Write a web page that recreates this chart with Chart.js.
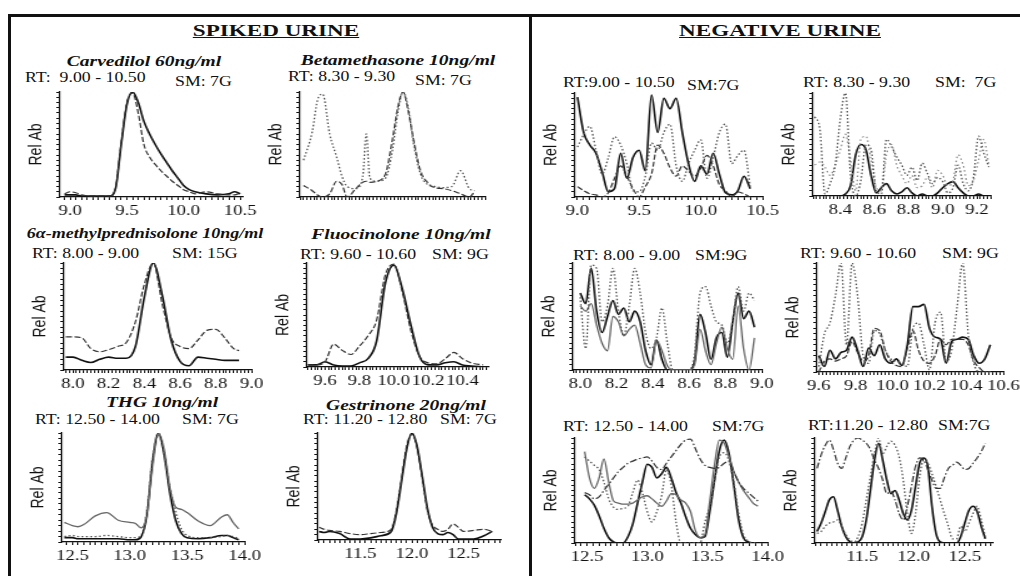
<!DOCTYPE html>
<html>
<head>
<meta charset="utf-8">
<script src="https://cdn.jsdelivr.net/npm/chart.js@4.4.1/dist/chart.umd.min.js"></script>
<style>
  body { margin: 0; background: #fff; }
  #page { position: relative; width: 1020px; height: 576px; overflow: hidden; background: #fff;
          font-family: 'Liberation Serif', 'Times New Roman', serif; color: #111; }
  .rule { position: absolute; background: #111; }
  .txt { position: absolute; white-space: pre; line-height: 1; }
  .head { font-weight: bold; font-size: 17px; text-decoration: underline; text-align: center; width: 300px; }
  .name { font-weight: bold; font-style: italic; font-size: 15px; text-align: center; width: 300px; }
  .rt { font-size: 14px; }
  .plot { position: absolute; transform-origin: 0 0; }
</style>
</head>
<body>
<div id="page">
  <div class="rule" style="left:8px;top:14px;width:1012px;height:3px"></div>
  <div class="rule" style="left:8px;top:14px;width:3px;height:562px"></div>
  <div class="rule" style="left:529px;top:14px;width:3px;height:562px"></div>
</div>
<script>
// ---- spiked urine ----
const carvRt = [8.95, 9.0, 9.05, 9.1, 9.2, 9.3, 9.35, 9.4, 9.45, 9.5, 9.55, 9.6, 9.65, 9.7, 9.75, 9.8, 9.85, 9.9, 9.95, 10.0, 10.05, 10.1, 10.2, 10.3, 10.4, 10.45, 10.5];
const carvSolid = [2, 2, 2, 1, 1, 1, 1, 8, 50, 88, 100, 90, 72, 60, 50, 41, 33, 25, 18, 11, 7, 5, 3, 2, 3, 5, 3];
const carvDash = [3, 5, 4, 2, 1, 1, 1, 9, 52, 90, 99, 80, 50, 38, 31, 25, 20, 15, 11, 7, 5, 3, 5, 3, 2, 2, 4];

const betaRt = [8.25, 8.3, 8.33, 8.36, 8.4, 8.44, 8.47, 8.5, 8.55, 8.59, 8.61, 8.63, 8.67, 8.72, 8.76, 8.79, 8.82, 8.85, 8.88, 8.92, 8.96, 9.0, 9.05, 9.1, 9.15, 9.2, 9.23];
const betaDot = [35, 62, 92, 98, 60, 38, 20, 10, 8, 20, 60, 18, 15, 18, 45, 80, 100, 85, 52, 22, 12, 10, 9, 10, 25, 8, 6];
const betaSolid = [11, 6, 2, 0, 3, 15, 12, 0, 8, 14, 15, 14, 15, 22, 55, 85, 100, 82, 55, 25, 14, 9, 8, 6, 3, 0, 5];

const mpRt = [7.96, 8.0, 8.05, 8.1, 8.15, 8.2, 8.25, 8.3, 8.35, 8.4, 8.45, 8.5, 8.55, 8.6, 8.65, 8.7, 8.75, 8.8, 8.85, 8.9, 8.93];
const mpSolid = [12, 12, 9, 7, 10, 12, 11, 11, 22, 68, 100, 70, 28, 8, 4, 12, 11, 10, 9, 9, 9];
const mpDash = [31, 31, 30, 20, 17, 19, 22, 26, 45, 80, 100, 62, 30, 22, 20, 28, 37, 38, 30, 20, 18];

const fluoRt = [9.5, 9.55, 9.6, 9.65, 9.7, 9.75, 9.8, 9.85, 9.9, 9.95, 10.0, 10.05, 10.1, 10.15, 10.2, 10.25, 10.3, 10.35, 10.4, 10.45, 10.52];
const fluoSolid = [2, 2, 5, 2, 1, 1, 4, 8, 25, 80, 98, 75, 40, 10, 2, 2, 4, 5, 2, 1, 0];
const fluoDash = [2, 2, 5, 22, 16, 12, 20, 30, 45, 88, 99, 72, 35, 10, 4, 3, 8, 14, 8, 4, 2];

const thgRt = [12.43, 12.5, 12.55, 12.6, 12.7, 12.8, 12.9, 13.0, 13.05, 13.1, 13.15, 13.2, 13.25, 13.3, 13.35, 13.4, 13.45, 13.5, 13.6, 13.7, 13.8, 13.85, 13.9, 13.95];
const thgUpper = [18, 15, 14, 16, 24, 27, 20, 18, 17, 13, 25, 70, 100, 85, 50, 32, 30, 27, 19, 15, 23, 25, 18, 12];
const thgSolid = [4, 4, 3, 3, 3, 3, 3, 2, 2, 5, 25, 75, 100, 80, 45, 20, 8, 4, 3, 4, 6, 6, 4, 2];
const thgDot = [5, 6, 5, 5, 5, 6, 5, 4, 4, 6, 28, 78, 98, 82, 50, 28, 12, 6, 4, 4, 5, 6, 5, 3];

const gestRt = [11.1, 11.15, 11.2, 11.3, 11.4, 11.5, 11.6, 11.7, 11.8, 11.85, 11.9, 11.95, 12.0, 12.05, 12.1, 12.15, 12.2, 12.25, 12.3, 12.35, 12.4, 12.45, 12.5, 12.6, 12.7, 12.78];
const gestSolid = [8, 7, 8, 6, 1, 1, 2, 4, 8, 25, 55, 85, 100, 88, 60, 30, 12, 6, 5, 7, 5, 1, 1, 1, 4, 8];
const gestDash = [12, 10, 9, 8, 6, 5, 6, 7, 10, 28, 58, 88, 99, 86, 58, 28, 14, 10, 8, 10, 15, 12, 8, 9, 10, 8];

// ---- negative urine ----
const negCarvRt = [9.0, 9.05, 9.1, 9.15, 9.2, 9.25, 9.3, 9.35, 9.4, 9.45, 9.5, 9.55, 9.6, 9.65, 9.7, 9.75, 9.8, 9.85, 9.9, 9.95, 10.0, 10.05, 10.1, 10.15, 10.2, 10.25, 10.3, 10.35, 10.4];
const negCarvSolid = [96, 62, 50, 42, 24, 5, 8, 42, 18, 38, 45, 25, 98, 62, 95, 85, 95, 62, 32, 15, 30, 22, 42, 22, 4, 2, 6, 20, 8];
const negCarvDot = [48, 60, 68, 45, 22, 38, 58, 50, 32, 6, 5, 20, 52, 45, 62, 70, 30, 15, 32, 45, 55, 18, 38, 62, 70, 32, 40, 45, 10];
const negCarvDash = [10, 6, 3, 2, 0, 4, 18, 30, 20, 8, 0, 10, 22, 50, 42, 28, 20, 30, 25, 20, 28, 40, 30, 12, 6, 0, 5, 3, 0];

const negBetaRt = [8.25, 8.28, 8.31, 8.34, 8.37, 8.40, 8.43, 8.46, 8.49, 8.52, 8.55, 8.58, 8.61, 8.64, 8.67, 8.70, 8.73, 8.76, 8.79, 8.82, 8.85, 8.88, 8.91, 8.94, 8.97, 9.00, 9.03, 9.06, 9.09, 9.12, 9.15, 9.18, 9.21, 9.24, 9.27];
const negBetaA = [77, 65, 2, 12, 30, 75, 100, 20, 0, 15, 50, 45, 5, 2, 55, 48, 38, 30, 20, 28, 15, 32, 22, 12, 18, 14, 3, 8, 30, 12, 5, 18, 58, 42, 28];
const negBetaB = [30, 33, 28, 20, 30, 45, 60, 35, 5, 55, 58, 35, 8, 5, 40, 50, 30, 20, 12, 20, 8, 10, 18, 8, 25, 20, 10, 15, 40, 30, 10, 15, 35, 55, 30];
const negBetaSolid = [0, 0, 0, 0, 0, 0, 2, 10, 40, 50, 45, 20, 3, 8, 12, 5, 2, 4, 8, 3, 0, 2, 0, 0, 3, 8, 12, 14, 8, 3, 0, 0, 2, 0, 0];

const negMpRt = [8.00, 8.03, 8.06, 8.09, 8.12, 8.15, 8.18, 8.21, 8.24, 8.27, 8.30, 8.33, 8.36, 8.39, 8.42, 8.45, 8.48, 8.51, 8.54, 8.57, 8.60, 8.63, 8.66, 8.69, 8.72, 8.75, 8.78, 8.81, 8.84, 8.87, 8.90, 8.93, 8.96];
const negMpDot = [68, 20, 98, 95, 45, 60, 95, 55, 32, 60, 95, 72, 35, 20, 30, 58, 25, 0, 0, 0, 0, 15, 72, 78, 60, 45, 42, 25, 45, 78, 55, 72, 65];
const negMpSolid = [72, 62, 95, 55, 35, 50, 65, 52, 58, 45, 55, 45, 18, 5, 28, 10, 0, 0, 0, 0, 0, 8, 52, 35, 10, 30, 35, 12, 45, 72, 48, 55, 40];
const negMpThin = [60, 55, 62, 42, 25, 18, 50, 45, 32, 38, 42, 25, 5, 2, 28, 18, 4, 0, 0, 0, 0, 5, 38, 18, 5, 25, 40, 20, 10, 60, 20, 0, 30];

const negFluoRt = [9.60, 9.63, 9.66, 9.69, 9.72, 9.75, 9.78, 9.81, 9.84, 9.87, 9.90, 9.93, 9.96, 9.99, 10.02, 10.05, 10.08, 10.11, 10.14, 10.17, 10.20, 10.23, 10.26, 10.29, 10.32, 10.35, 10.38, 10.41, 10.44, 10.47, 10.50, 10.53];
const negFluoDot = [5, 35, 45, 70, 100, 25, 100, 70, 15, 8, 38, 35, 20, 12, 10, 8, 5, 40, 45, 25, 2, 45, 55, 10, 20, 60, 100, 35, 8, 0, 0, 0];
const negFluoSolid = [15, 5, 20, 12, 18, 20, 32, 20, 5, 22, 15, 25, 12, 8, 12, 6, 25, 60, 60, 62, 40, 32, 30, 8, 28, 30, 32, 30, 15, 8, 12, 25];
const negFluoDash = [0, 10, 12, 10, 12, 15, 28, 18, 10, 15, 40, 38, 20, 10, 6, 5, 22, 38, 20, 10, 8, 15, 30, 25, 30, 30, 30, 25, 10, 4, 0, 0];

const negThgRt = [12.48, 12.52, 12.56, 12.60, 12.64, 12.68, 12.72, 12.76, 12.80, 12.84, 12.88, 12.92, 12.96, 13.00, 13.04, 13.08, 13.12, 13.16, 13.20, 13.24, 13.28, 13.32, 13.36, 13.40, 13.44, 13.48, 13.52, 13.56, 13.60, 13.64, 13.68, 13.72, 13.76, 13.80, 13.84, 13.88, 13.92];
const negThgA = [46, 42, 36, 26, 14, 5, 1, 0, 0, 6, 18, 38, 58, 75, 72, 62, 66, 72, 62, 48, 38, 25, 14, 8, 5, 6, 30, 60, 88, 98, 85, 55, 22, 5, 1, 0, 0];
const negThgB = [87, 62, 52, 62, 80, 58, 40, 38, 37, 37, 38, 41, 44, 45, 42, 38, 35, 40, 47, 46, 41, 38, 30, 12, 5, 8, 40, 75, 98, 95, 82, 68, 58, 50, 44, 38, 35];
const negThgC = [48, 46, 42, 44, 50, 56, 62, 68, 72, 76, 78, 80, 81, 82, 78, 72, 70, 76, 82, 88, 94, 98, 99, 90, 80, 74, 72, 71, 72, 76, 78, 68, 58, 52, 48, 44, 40];
const negThgD = [82, 78, 74, 70, 58, 42, 34, 32, 33, 35, 48, 60, 48, 30, 20, 30, 45, 70, 55, 20, 0, 0, 0, 0, 0, 20, 35, 60, 82, 86, 78, 58, 28, 8, 2, 0, 0];

const negGestRt = [11.06, 11.10, 11.14, 11.18, 11.22, 11.26, 11.30, 11.34, 11.38, 11.42, 11.46, 11.50, 11.54, 11.58, 11.62, 11.66, 11.70, 11.74, 11.78, 11.82, 11.86, 11.90, 11.94, 11.98, 12.02, 12.06, 12.10, 12.14, 12.18, 12.22, 12.26, 12.30, 12.34, 12.38, 12.42, 12.46, 12.50, 12.54, 12.58, 12.62, 12.66, 12.70];
const negGestA = [71, 84, 93, 98, 89, 76, 71, 81, 92, 98, 100, 98, 95, 89, 79, 71, 60, 47, 49, 41, 28, 22, 35, 54, 73, 81, 79, 70, 60, 52, 52, 62, 71, 74, 77, 74, 70, 71, 76, 81, 87, 95];
const negGestB = [9, 11, 16, 19, 20, 22, 16, 8, 3, 1, 6, 19, 41, 63, 85, 100, 85, 92, 97, 93, 82, 60, 28, 9, 28, 63, 79, 76, 66, 54, 41, 28, 16, 4, 4, 16, 11, 19, 28, 35, 22, 6];
const negGestC = [11, 19, 30, 41, 44, 31, 16, 6, 1, 0, 1, 6, 22, 50, 79, 95, 79, 60, 47, 50, 41, 28, 22, 31, 54, 76, 81, 73, 35, 9, 1, 0, 0, 0, 0, 6, 19, 31, 35, 30, 16, 4];

// line looks
const solid = { borderColor: '#111', borderWidth: 1.6, borderDash: [] };
const gray = { borderColor: '#666', borderWidth: 1.3, borderDash: [] };
const dashed = { borderColor: '#333', borderWidth: 1.2, borderDash: [5, 2] };
const dotted = { borderColor: '#555', borderWidth: 1.3, borderDash: [1.5, 2] };
const dotLight = { borderColor: '#888', borderWidth: 1.2, borderDash: [1.5, 2.5] };
const dashDot = { borderColor: '#333', borderWidth: 1.2, borderDash: [6, 2, 1.5, 2] };

const page = document.getElementById('page');

// the scanned figure is stretched sideways, so every plot is drawn narrow and widened
const S = 1.25;
const YW = 28, XH = 27, PT = 6, PR = 16;

function addText(text, cls, x, cy, size, sx, centered) {
  const d = document.createElement('div');
  d.className = 'txt ' + cls;
  d.textContent = text;
  d.style.top = (cy - size / 2) + 'px';
  if (centered) {
    d.style.left = (x - 150) + 'px';
    d.style.transformOrigin = '50% 50%';
  } else {
    d.style.left = x + 'px';
    d.style.transformOrigin = '0 50%';
  }
  d.style.transform = `scaleX(${sx})`;
  page.appendChild(d);
}

const isMajor = (v, step) => Math.abs(v / step - Math.round(v / step)) < 1e-6;

function drawPanel(p, rt, traces) {
  const wrap = document.createElement('div');
  wrap.className = 'plot';
  const w = Math.round(YW + (p.r - p.l) / S + PR);
  const h = PT + (p.b - p.t) + XH;
  wrap.style.left = (p.l - S * YW) + 'px';
  wrap.style.top = (p.t - PT) + 'px';
  wrap.style.transform = `scaleX(${S})`;
  const cv = document.createElement('canvas');
  cv.width = w;
  cv.height = h;
  wrap.appendChild(cv);
  page.appendChild(wrap);

  new Chart(cv, {
    type: 'line',
    data: {
      datasets: traces.map(([vals, look]) => ({
        data: rt.map((x, i) => ({ x, y: vals[i] })),
        ...look,
        pointRadius: 0,
        fill: false,
        cubicInterpolationMode: 'monotone',
      })),
    },
    options: {
      responsive: false,
      animation: false,
      events: [],
      layout: { padding: { top: PT, right: PR, left: 0, bottom: 0 } },
      plugins: { legend: { display: false }, tooltip: { enabled: false } },
      scales: {
        x: {
          type: 'linear',
          min: p.min,
          max: p.max,
          afterFit: (s) => { s.height = XH; },
          border: { color: '#111', width: 1.2 },
          grid: { drawOnChartArea: false, drawTicks: true, tickLength: 3, color: '#111' },
          ticks: {
            stepSize: p.minor,
            autoSkip: false,
            maxRotation: 0,
            includeBounds: false,
            maxTicksLimit: 1000,
            padding: 2,
            color: '#111',
            font: { family: 'Liberation Serif', size: 15 },
            callback: (v) => isMajor(v, p.major) ? v.toFixed(1) : '',
          },
        },
        y: {
          min: 0,
          max: 100,
          afterFit: (s) => { s.width = YW; },
          border: { color: '#111', width: 1.2 },
          grid: { drawOnChartArea: false, drawTicks: true, tickLength: 3, color: '#111' },
          ticks: { display: false, stepSize: 5 },
          title: {
            display: true,
            text: 'Rel Ab',
            color: '#111',
            font: { family: 'Liberation Sans', size: 14 },
            padding: { top: 1, bottom: 0 },
          },
        },
      },
    },
  });
}

// section headers and compound names
addText('SPIKED URINE', 'head', 276, 30.5, 17, 1.36, true);
addText('NEGATIVE URINE', 'head', 780, 30.5, 17, 1.36, true);
addText('Carvedilol 60ng/ml', 'name', 144, 61, 15, 1.3, true);
addText('Betamethasone 10ng/ml', 'name', 398, 60, 15, 1.3, true);
addText('6α-methylprednisolone 10ng/ml', 'name', 145, 233, 15, 1.2, true);
addText('Fluocinolone 10ng/ml', 'name', 401, 234, 15, 1.3, true);
addText('THG 10ng/ml', 'name', 162, 402, 15, 1.3, true);
addText('Gestrinone 20ng/ml', 'name', 406, 405, 15, 1.3, true);

// retention window / smoothing lines
[
  ['RT:  9.00 - 10.50', 25, 77.5], ['SM: 7G', 175, 81.5],
  ['RT: 8.30 - 9.30', 288, 77], ['SM: 7G', 415, 81],
  ['RT: 8.00 - 9.00', 32, 254], ['SM: 15G', 172, 254],
  ['RT: 9.60 - 10.60', 300, 255], ['SM: 9G', 432, 255],
  ['RT: 12.50 - 14.00', 35, 420], ['SM: 7G', 182, 420],
  ['RT: 11.20 - 12.80', 303, 420], ['SM: 7G', 440, 420],
  ['RT:9.00 - 10.50', 563, 82.5], ['SM:7G', 687, 86],
  ['RT: 8.30 - 9.30', 803, 83], ['SM:  7G', 935, 83],
  ['RT: 8.00 - 9.00', 573, 256], ['SM:9G', 695, 256],
  ['RT: 9.60 - 10.60', 800, 254], ['SM: 9G', 942, 254],
  ['RT: 12.50 - 14.00', 563, 427], ['SM:7G', 712, 427],
  ['RT:11.20 - 12.80', 808, 426], ['SM:7G', 938, 426],
].forEach(([t, x, y]) => addText(t, 'rt', x, y, 14, 1.27, false));

// spiked urine
drawPanel({ l: 60, r: 242, t: 92, b: 197, min: 8.91, max: 10.52, major: 0.5, minor: 0.05 }, carvRt,
  [[carvDash, dashed], [carvSolid, solid]]);
drawPanel({ l: 300, r: 485, t: 92, b: 197, min: 8.23, max: 9.29, major: 0.2, minor: 0.02 }, betaRt,
  [[betaDot, dotted], [betaSolid, dashed]]);
drawPanel({ l: 64, r: 252, t: 263, b: 370, min: 7.95, max: 9.0, major: 0.2, minor: 0.02 }, mpRt,
  [[mpDash, dashed], [mpSolid, solid]]);
drawPanel({ l: 307, r: 488, t: 263, b: 367, min: 9.495, max: 10.55, major: 0.2, minor: 0.02 }, fluoRt,
  [[fluoDash, dashed], [fluoSolid, solid]]);
drawPanel({ l: 62, r: 245, t: 433, b: 542, min: 12.41, max: 14.0, major: 0.5, minor: 0.05 }, thgRt,
  [[thgUpper, gray], [thgDot, dotted], [thgSolid, solid]]);
drawPanel({ l: 318, r: 500, t: 433, b: 540, min: 11.09, max: 12.86, major: 0.5, minor: 0.05 }, gestRt,
  [[gestDash, dashed], [gestSolid, solid]]);

// negative urine
drawPanel({ l: 575, r: 762, t: 93, b: 197, min: 8.98, max: 10.5, major: 0.5, minor: 0.05 }, negCarvRt,
  [[negCarvDot, dotted], [negCarvDash, dashed], [negCarvSolid, solid]]);
drawPanel({ l: 813, r: 990, t: 93, b: 196, min: 8.24, max: 9.28, major: 0.2, minor: 0.02 }, negBetaRt,
  [[negBetaA, dotted], [negBetaB, dotLight], [negBetaSolid, solid]]);
drawPanel({ l: 573, r: 762, t: 263, b: 370, min: 7.96, max: 9.0, major: 0.2, minor: 0.02 }, negMpRt,
  [[negMpDot, dotted], [negMpThin, gray], [negMpSolid, solid]]);
drawPanel({ l: 817, r: 1003, t: 263, b: 372, min: 9.59, max: 10.6, major: 0.2, minor: 0.02 }, negFluoRt,
  [[negFluoDot, dotted], [negFluoDash, dashed], [negFluoSolid, solid]]);
drawPanel({ l: 575, r: 767, t: 438, b: 543, min: 12.4, max: 14.0, major: 0.5, minor: 0.05 }, negThgRt,
  [[negThgD, dotted], [negThgC, dashDot], [negThgB, gray], [negThgA, solid]]);
drawPanel({ l: 815, r: 993, t: 438, b: 543, min: 11.04, max: 12.77, major: 0.5, minor: 0.05 }, negGestRt,
  [[negGestA, dashDot], [negGestB, dotted], [negGestC, solid]]);
</script>
</body>
</html>
